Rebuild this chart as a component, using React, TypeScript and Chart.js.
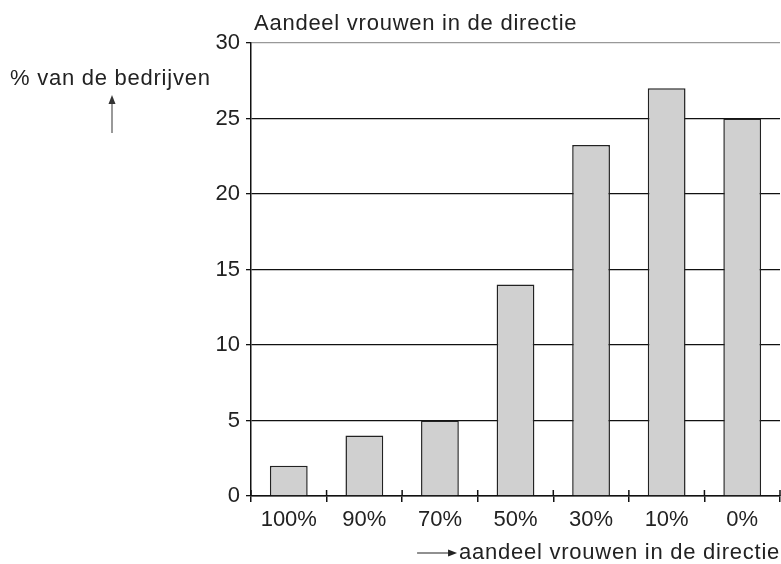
import React, { useEffect, useRef } from "react";
import { Chart, registerables } from "chart.js";

Chart.register(...registerables);

const categories = ["100%", "90%", "70%", "50%", "30%", "10%", "0%"];
const shares = [2, 4, 5, 14, 23.25, 27, 25];
const titleText = "Aandeel vrouwen in de directie";
const yAxisLabel = "% van de bedrijven";
const xAxisLabel = "aandeel vrouwen in de directie";

const FONT = "Liberation Sans, Arial, Helvetica, sans-serif";

const annotations = {
  id: "annotations",
  afterDraw(chart: any) {
    const ctx = chart.ctx as CanvasRenderingContext2D;
    const area = chart.chartArea;
    const xs = chart.scales.x;
    ctx.save();
    // x-axis tick marks above the axis (below part drawn by grid)
    ctx.strokeStyle = "#111";
    ctx.lineWidth = 1.5;
    for (let i = 0; i <= categories.length; i++) {
      const px = xs.getPixelForValue(i - 0.5);
      ctx.beginPath();
      ctx.moveTo(px, area.bottom);
      ctx.lineTo(px, area.bottom - 6);
      ctx.stroke();
    }
    ctx.fillStyle = "#222";
    ctx.font = `22px ${FONT}`;
    (ctx as any).letterSpacing = "0.75px";
    ctx.textBaseline = "alphabetic";
    ctx.textAlign = "left";
    ctx.fillText(titleText, area.left + 3, 30);
    ctx.fillText(yAxisLabel, 10, 85);
    const w = ctx.measureText(xAxisLabel).width;
    const tx = area.right - w;
    ctx.fillText(xAxisLabel, tx, 559);
    const ax1 = tx - 2;
    const ax0 = ax1 - 40;
    (ctx as any).letterSpacing = "0px";
    // right arrow
    ctx.strokeStyle = "#222";
    ctx.lineWidth = 1.2;
    ctx.beginPath();
    ctx.moveTo(ax0, 553);
    ctx.lineTo(ax1 - 6, 553);
    ctx.stroke();
    ctx.beginPath();
    ctx.moveTo(ax1, 553);
    ctx.lineTo(ax1 - 9, 549.5);
    ctx.lineTo(ax1 - 9, 556.5);
    ctx.closePath();
    ctx.fill();
    // up arrow
    ctx.strokeStyle = "#555";
    ctx.fillStyle = "#333";
    ctx.beginPath();
    ctx.moveTo(112, 133);
    ctx.lineTo(112, 102);
    ctx.stroke();
    ctx.beginPath();
    ctx.moveTo(112, 95);
    ctx.lineTo(108.5, 104);
    ctx.lineTo(115.5, 104);
    ctx.closePath();
    ctx.fill();
    ctx.restore();
  },
};

export default function App() {
  const ref = useRef<HTMLCanvasElement>(null);
  useEffect(() => {
    const chart = new Chart(ref.current!, {
      type: "bar",
      data: {
        labels: categories,
        datasets: [
          {
            data: shares,
            backgroundColor: "#d0d0d0",
            borderColor: "#222",
            borderWidth: 1.5,
            barPercentage: 0.5,
            categoryPercentage: 1,
          },
        ],
      },
      options: {
        animation: false,
        responsive: false,
        maintainAspectRatio: false,
        layout: { padding: { left: 0, right: 1, top: 43, bottom: 0 } },
        plugins: { legend: { display: false }, tooltip: { enabled: false }, title: { display: false } },
        scales: {
          x: {
            offset: true,
            grid: {
              display: true,
              offset: true,
              drawOnChartArea: false,
              drawTicks: true,
              tickLength: 6,
              color: "#111",
              lineWidth: 1.5,
            },
            border: { display: true, color: "#111", width: 1.5 },
            ticks: { color: "#222", font: { family: FONT, size: 22 }, padding: 5, maxRotation: 0 },
            afterFit: (s: any) => {
              s.height = 68;
            },
          },
          y: {
            min: 0,
            max: 30,
            ticks: { stepSize: 5, color: "#222", font: { family: FONT, size: 22 }, padding: 6 },
            grid: {
              color: (c: any) => (c.tick && c.tick.value === 30 ? "#999" : "#111"),
              tickColor: "#111",
              lineWidth: 1.3,
              tickLength: 5,
            },
            border: { display: true, color: "#111", width: 1.5 },
            afterFit: (s: any) => {
              s.width = 251;
            },
          },
        },
      },
      plugins: [annotations],
    });
    return () => chart.destroy();
  }, []);
  return (
    <div style={{ position: "fixed", left: 0, top: 0, width: 781, height: 564, background: "#fff" }}>
      <canvas ref={ref} width={781} height={564} style={{ width: 781, height: 564 }} />
    </div>
  );
}
